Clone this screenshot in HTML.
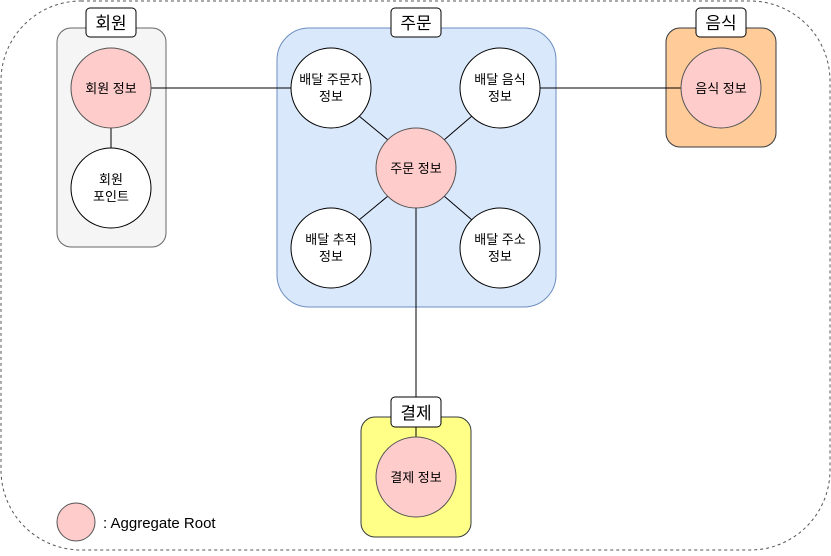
<!DOCTYPE html>
<html><head><meta charset="utf-8"><style>
body{margin:0;background:#fff;}
svg text{font-family:"Liberation Sans","Noto Sans CJK KR",sans-serif;}
</style></head><body>
<svg width="831" height="551" viewBox="0 0 831 551" xmlns="http://www.w3.org/2000/svg">
<rect x="1" y="1" width="829" height="549" rx="80" fill="#fff" stroke="#555" stroke-dasharray="3,3"/>
<!-- groups -->
<rect x="57" y="28" width="109" height="219" rx="14" fill="#f5f5f5" stroke="#666"/>
<rect x="277" y="28" width="279" height="279" rx="32" fill="#dae8fc" stroke="#6c8ebf"/>
<rect x="666" y="28" width="110" height="119" rx="14" fill="#ffcc99" stroke="#36393d"/>
<rect x="361" y="417" width="110" height="120" rx="14" fill="#ffff88" stroke="#36393d"/>
<!-- lines -->
<g stroke="#000" stroke-width="1">
<line x1="151" y1="88" x2="291" y2="88"/>
<line x1="111" y1="128" x2="111" y2="148"/>
<line x1="540" y1="88" x2="681" y2="88"/>
<line x1="359" y1="116" x2="388" y2="140"/>
<line x1="472" y1="116" x2="444" y2="140"/>
<line x1="359" y1="220" x2="388" y2="196"/>
<line x1="472" y1="220" x2="444" y2="196"/>
<line x1="416" y1="208" x2="416" y2="437"/>
</g>
<!-- circles -->
<g stroke="#000" stroke-width="1">
<circle cx="111" cy="88" r="40" fill="#ffcccc" stroke="#555"/>
<circle cx="111" cy="188" r="40" fill="#fff"/>
<circle cx="331" cy="88" r="40" fill="#fff"/>
<circle cx="500" cy="88" r="40" fill="#fff"/>
<circle cx="416" cy="168" r="40" fill="#ffcccc" stroke="#555"/>
<circle cx="331" cy="248" r="40" fill="#fff"/>
<circle cx="500" cy="248" r="40" fill="#fff"/>
<circle cx="721" cy="88" r="40" fill="#ffcccc" stroke="#555"/>
<circle cx="416" cy="477" r="40" fill="#ffcccc" stroke="#555"/>
<circle cx="76" cy="522" r="19" fill="#ffcccc" stroke="#555"/>
</g>
<!-- labels boxes -->
<g fill="#fff" stroke="#000">
<rect x="86" y="8" width="50" height="29" rx="4"/>
<rect x="391" y="8" width="50" height="29" rx="4"/>
<rect x="696" y="8" width="50" height="29" rx="4"/>
<rect x="391" y="397" width="50" height="30" rx="4"/>
</g>
<g font-size="17" text-anchor="middle">
<text x="111" y="29">회원</text>
<text x="416" y="29">주문</text>
<text x="721" y="29">음식</text>
<text x="416" y="419">결제</text>
</g>
<g font-size="13" text-anchor="middle">
<text x="111" y="93">회원 정보</text>
<text x="111" y="184">회원</text><text x="111" y="201">포인트</text>
<text x="331" y="84">배달 주문자</text><text x="331" y="101">정보</text>
<text x="500" y="84">배달 음식</text><text x="500" y="101">정보</text>
<text x="416" y="173">주문 정보</text>
<text x="331" y="244">배달 추적</text><text x="331" y="261">정보</text>
<text x="500" y="244">배달 주소</text><text x="500" y="261">정보</text>
<text x="721" y="93">음식 정보</text>
<text x="416" y="482">결제 정보</text>
</g>
<text x="103" y="528" font-size="15">: Aggregate Root</text>
</svg>
</body></html>
